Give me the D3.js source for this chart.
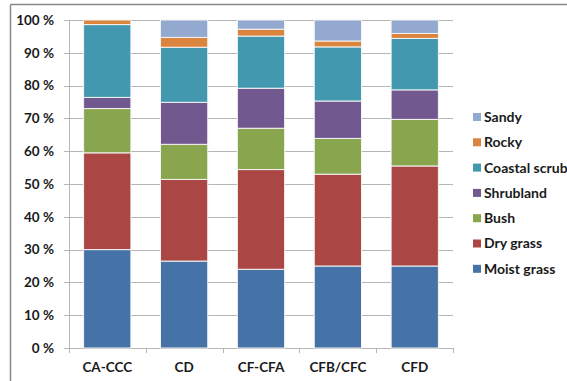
<!DOCTYPE html>
<html>
<head>
<meta charset="utf-8">
<script src="https://cdn.jsdelivr.net/npm/d3@7"></script>
<style>
  body { margin: 0; background: #fff; }
  text { font-family: Lato, "Open Sans", sans-serif; font-weight: bold; fill: #1a1a1a; }
</style>
</head>
<body>
<div id="chart"></div>
<script>
// categories and series (percent of each zone)
var zones = ["CA-CCC", "CD", "CF-CFA", "CFB/CFC", "CFD"];
var habitats = ["Moist grass", "Dry grass", "Bush", "Shrubland", "Coastal scrub", "Rocky", "Sandy"];
var moistGrass = [30.0, 26.5, 24.0, 25.0, 25.0];
var dryGrass = [29.5, 24.9, 30.4, 28.0, 30.5];
var bush = [13.5, 10.7, 12.6, 10.9, 14.2];
var shrubland = [3.4, 12.8, 12.2, 11.4, 9.0];
var coastalScrub = [22.2, 16.8, 15.9, 16.5, 15.7];
var rocky = [1.4, 3.0, 2.1, 1.8, 1.5];
var sandy = [0, 5.3, 2.8, 6.4, 4.1];
var yTicks = [0, 10, 20, 30, 40, 50, 60, 70, 80, 90, 100];

var colors = ["#4572a7", "#aa4643", "#89a54e", "#71588f", "#4198af", "#db843d", "#93a9cf"];

// svg size
var svgWidth = 567;
var svgHeight = 381;

var margin = { top: 20, right: 114, bottom: 33, left: 69 };
var width = svgWidth - margin.left - margin.right;
var height = svgHeight - margin.top - margin.bottom;

var svg = d3.select("#chart").append("svg")
    .attr("width", svgWidth)
    .attr("height", svgHeight);

// outer frame (top and left edges only are visible)
svg.append("line").attr("x1", 10.5).attr("x2", svgWidth).attr("y1", 4.5).attr("y2", 4.5)
    .attr("stroke", "#888").attr("stroke-width", 1.5);
svg.append("line").attr("x1", 10.5).attr("x2", 10.5).attr("y1", 4.5).attr("y2", svgHeight)
    .attr("stroke", "#888").attr("stroke-width", 1.5);

var chartGroup = svg.append("g")
    .attr("transform", `translate(${margin.left}, ${margin.top})`);

// build table for stack
var series = [moistGrass, dryGrass, bush, shrubland, coastalScrub, rocky, sandy];
var table = zones.map(function(z, i) {
    var row = { zone: z };
    habitats.forEach(function(h, j) { row[h] = series[j][i]; });
    return row;
});
var stacked = d3.stack().keys(habitats)(table);

var xBand = d3.scaleBand().domain(zones).range([0, width]).paddingInner(0.385).paddingOuter(0.19);
var yLinearScale = d3.scaleLinear().domain([0, 100]).range([height, 0]);

// gridlines
chartGroup.selectAll(".grid")
    .data(yTicks)
    .enter()
    .append("line")
    .attr("x1", -5)
    .attr("x2", width)
    .attr("y1", d => Math.round(yLinearScale(d)) + 0.5)
    .attr("y2", d => Math.round(yLinearScale(d)) + 0.5)
    .attr("stroke", "#b5b5b5")
    .attr("stroke-width", 1);

// y axis
var leftAxis = d3.axisLeft(yLinearScale).tickValues(yTicks).tickSize(0).tickPadding(15)
    .tickFormat(d => d + " %");
var yAxis = chartGroup.append("g").call(leftAxis);
yAxis.select(".domain").attr("stroke", "#b5b5b5");
yAxis.selectAll("text").attr("font-size", "13.5px").style("font-family", "Lato, sans-serif").style("font-weight", "bold");

// x axis with ticks between categories
var step = width / zones.length;
var xAxis = chartGroup.append("g").attr("transform", `translate(0, ${height})`);
xAxis.append("line").attr("x1", 0).attr("x2", width).attr("y1", 0.5).attr("y2", 0.5).attr("stroke", "#b5b5b5");
xAxis.selectAll(".xtick")
    .data(d3.range(zones.length + 1))
    .enter()
    .append("line")
    .attr("x1", d => Math.round(d * step) + 0.5)
    .attr("x2", d => Math.round(d * step) + 0.5)
    .attr("y1", 0)
    .attr("y2", 5)
    .attr("stroke", "#b5b5b5");
xAxis.selectAll(".xlabel")
    .data(zones)
    .enter()
    .append("text")
    .attr("x", d => xBand(d) + xBand.bandwidth() / 2)
    .attr("y", 24)
    .attr("text-anchor", "middle")
    .attr("font-size", "13.5px")
    .text(d => d);

// bars
var layers = chartGroup.selectAll(".layer")
    .data(stacked)
    .enter()
    .append("g")
    .attr("fill", (d, i) => colors[i]);

layers.selectAll("rect")
    .data(d => d.filter(p => p[1] - p[0] > 0))
    .enter()
    .append("rect")
    .attr("x", d => xBand(d.data.zone))
    .attr("y", d => yLinearScale(d[1]))
    .attr("width", xBand.bandwidth())
    .attr("height", d => yLinearScale(d[0]) - yLinearScale(d[1]))
    .attr("stroke", "#f4f4f4")
    .attr("stroke-width", 1);

// legend (top item = last series)
var legend = svg.append("g").attr("transform", "translate(473, 117)");
var legendItems = legend.selectAll(".item")
    .data(habitats.slice().reverse())
    .enter()
    .append("g")
    .attr("transform", (d, i) => `translate(0, ${i * 25.3})`);
legendItems.append("rect")
    .attr("x", 0).attr("y", -4)
    .attr("width", 8).attr("height", 8)
    .attr("fill", d => colors[habitats.indexOf(d)]);
legendItems.append("text")
    .attr("x", 11)
    .attr("y", 0)
    .attr("dy", "0.35em")
    .attr("font-size", "14px")
    .text(d => d);
</script>
</body>
</html>
